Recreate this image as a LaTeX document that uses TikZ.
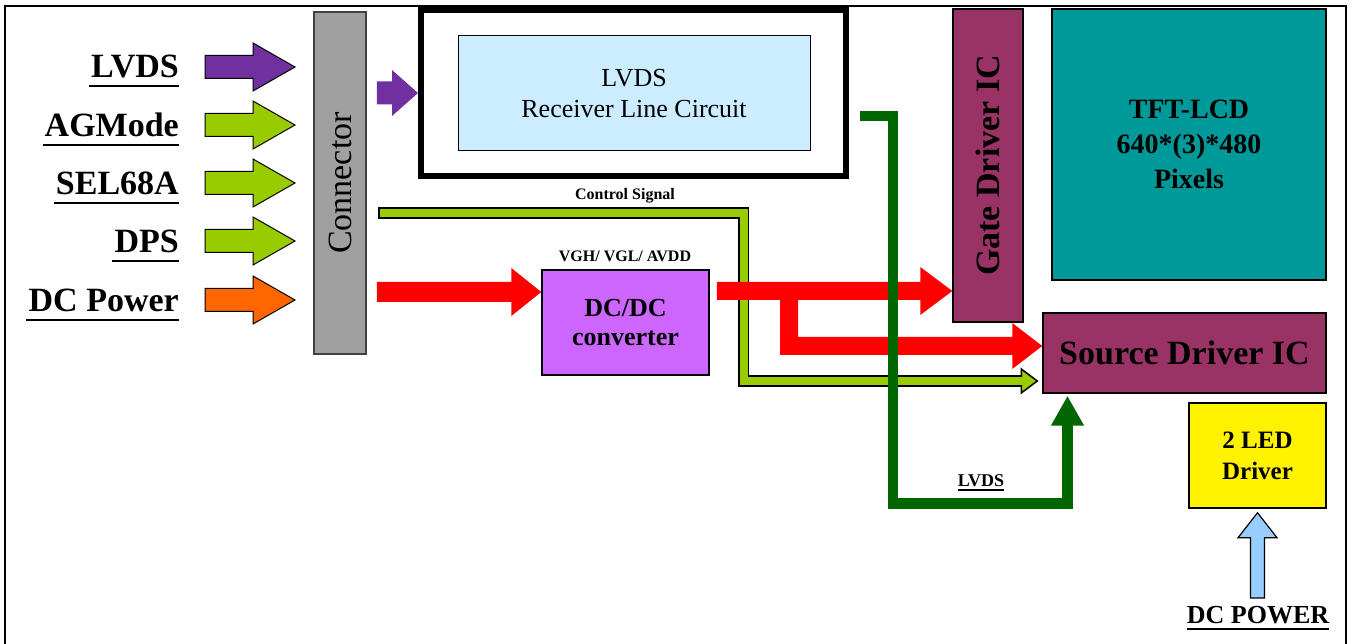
\documentclass[tikz,border=0pt]{standalone}
\usepackage{fontspec}
\setmainfont{Liberation Serif}
\usetikzlibrary{arrows.meta,calc}
\definecolor{cPurple}{HTML}{7030A0}
\definecolor{cGreen}{HTML}{99CC00}
\definecolor{cOrange}{HTML}{FF6600}
\definecolor{cGray}{HTML}{A0A0A0}
\definecolor{cRecv}{HTML}{CCECFF}
\definecolor{cDCDC}{HTML}{CC66FF}
\definecolor{cMaroon}{HTML}{993366}
\definecolor{cTeal}{HTML}{009999}
\definecolor{cDkGreen}{HTML}{006600}
\definecolor{cLtBlue}{HTML}{99CCFF}
% horizontal block arrow: #1 style, #2 start coord (x used), #3 tip coord, #4 head length, #5 shaft half, #6 head half
\newcommand\harrow[6]{%
  \path[#1] let \p1=#2, \p2=#3 in
    (\x1,\y2+#5pt) -- (\x2-#4pt,\y2+#5pt) -- (\x2-#4pt,\y2+#6pt) -- (\x2,\y2)
    -- (\x2-#4pt,\y2-#6pt) -- (\x2-#4pt,\y2-#5pt) -- (\x1,\y2-#5pt) -- cycle;}
\begin{document}
\begin{tikzpicture}[x=1pt,y=-1pt,
  box/.style={draw=black,line width=1.5pt,inner sep=0pt,align=center},
  big/.style={font=\fontsize{34}{40}\selectfont\bfseries},
  mid/.style={font=\fontsize{28}{35}\selectfont\bfseries,align=center},
  small/.style={font=\fontsize{16}{19}\selectfont\bfseries},
  uline/.style={line width=2pt},
  inarrow/.style={draw=black,line width=1pt}]
\useasboundingbox (0,0) rectangle (1353,644);
\fill[white] (0,0) rectangle (1353,644);
% frame
\draw[line width=2.2pt] (5,644) -- (5,6) -- (1346,6) -- (1346,644);

% boxes
\node[box,draw=black!75,fill=cGray,minimum width=52pt,minimum height=342pt] (conn) at (340,183) {};
\node[font=\fontsize{34}{40}\selectfont,rotate=90] at (conn.center) {Connector};
\node[draw=black,line width=6pt,minimum width=425pt,minimum height=166pt] (recvOuter) at (633.5,93) {};
\node[box,line width=1pt,fill=cRecv,minimum width=352pt,minimum height=115pt,font=\fontsize{26}{31}\selectfont] (recv) at (634,93.5) {LVDS\\Receiver Line Circuit};
\node[box,fill=cDCDC,minimum width=167pt,minimum height=105pt,font=\fontsize{26}{29}\selectfont\bfseries] (dcdc) at (625.5,322.5) {DC/DC\\converter};
\node[box,fill=cMaroon,minimum width=70pt,minimum height=313pt] (gate) at (988,165.5) {};
\node[big,rotate=90] at (gate.center) {Gate Driver IC};
\node[box,fill=cTeal,minimum width=274pt,minimum height=271pt,mid] (tft) at (1189,144.5) {TFT-LCD\\640*(3)*480\\Pixels};
\node[box,fill=cMaroon,minimum width=283pt,minimum height=80pt,big] (src) at (1184.5,353) {Source Driver IC};
\node[box,fill=yellow,minimum width=137pt,minimum height=105pt,font=\fontsize{25}{31}\selectfont\bfseries] (led) at (1257.5,455.5) {2 LED\\Driver};

% left labels
\foreach \name/\txt/\yb in {lA/LVDS/78, lB/AGMode/137, lC/SEL68A/195, lD/DPS/253, lE/DC Power/312}{
  \node[big,anchor=base east,inner sep=0pt] (\name) at (179,\yb) {\txt};
  \draw[uline] (\name.west |- 0,\yb+8) ++(-2,0) -- (\name.east |- 0,\yb+8);
}
% left input arrows
\harrow{inarrow,fill=cPurple}{(205,0)}{(295,67)}{42}{11.5}{24}
\harrow{inarrow,fill=cGreen}{(205,0)}{(295,125)}{42}{11.5}{24}
\harrow{inarrow,fill=cGreen}{(205,0)}{(295,183)}{42}{11.5}{24}
\harrow{inarrow,fill=cGreen}{(205,0)}{(295,241)}{42}{11.5}{24}
\harrow{inarrow,fill=cOrange}{(205,0)}{(295,300)}{42}{11.5}{24}

% connector -> receiver
\harrow{fill=cPurple}{($(conn.east)+(10,0)$)}{(recvOuter.west |- 0,93)}{26}{11.5}{23}

% control signal (drawn below the red power arrows)
\node[small] (ctl) at (625,196) {Control Signal};
\coordinate (cStart) at ($(conn.east |- 0,213)+(11,0)$);
\coordinate (cTip) at ($(src.west |- 0,381)+(-5,0)$);
\draw[line width=11.5pt] (cStart) -- (743.5,213) -- (743.5,381) -- ($(cTip)+(-15,0)$);
\filldraw[fill=cGreen,draw=black,line width=1.5pt] let \p1=(cTip) in
  (\x1,\y1) -- (\x1-16pt,\y1+12pt) -- (\x1-16pt,\y1-12pt) -- cycle;
\draw[cGreen,line width=8pt] ($(cStart)+(1.75,0)$) -- (743.5,213) -- (743.5,381) -- ($(cTip)+(-14.5,0)$);

% connector -> DC/DC
\harrow{fill=red}{($(conn.east)+(10,0)$)}{(dcdc.west |- 0,292)}{30}{10}{24}
% DC/DC -> gate
\harrow{fill=red}{($(dcdc.east)+(7,0)$)}{(gate.west |- 0,291)}{32}{9}{24}
% DC/DC -> source (branch)
\fill[red] let \p1=(src.west |- 0,346) in (780,291) -- (780,355) -- (\x1-30pt,\y1-9pt)
  -- (\x1-30pt,\y1-23pt) -- (\x1,\y1) -- (\x1-30pt,\y1+23pt) -- (\x1-30pt,\y1+9pt)
  -- (798,337) -- (798,291) -- cycle;

% VGH label
\node[small] (vgh) at (625,256) {VGH/ VGL/ AVDD};

% LVDS to source driver
\coordinate (gStart) at ($(recvOuter.east |- 0,116)+(11,0)$);
\draw[cDkGreen,line width=10.5pt,-{Triangle[width=31pt,length=30pt]}]
  (gStart) -- (893,116) -- (893,503.5) -- (1067.5,503.5) -- ($(src.south -| 1067.5,0)+(0,2)$);
\node[font=\fontsize{18}{20}\selectfont\bfseries,anchor=base,inner sep=0pt] (lvdsS) at (981,486) {LVDS};
\draw[line width=1.3pt] (lvdsS.west |- 0,490) -- (lvdsS.east |- 0,490);

% DC POWER -> LED driver
\coordinate (pBase) at (1257,598);
\filldraw[fill=cLtBlue,draw=black,line width=1.2pt] let \p1=($(led.south)+(0,4)$), \p2=(pBase) in
  (\x1,\y1) -- (\x1+19.5pt,\y1-25pt) -- (\x1+7pt,\y1-25pt) -- (\x1+7pt,\y2)
  -- (\x1-7pt,\y2) -- (\x1-7pt,\y1-25pt) -- (\x1-19.5pt,\y1-25pt) -- cycle;
\node[font=\fontsize{26}{30}\selectfont\bfseries,anchor=base,inner sep=0pt] (dcp) at (1258,623) {DC POWER};
\draw[line width=2pt] (dcp.west |- 0,629) -- (dcp.east |- 0,629);
\end{tikzpicture}
\end{document}
